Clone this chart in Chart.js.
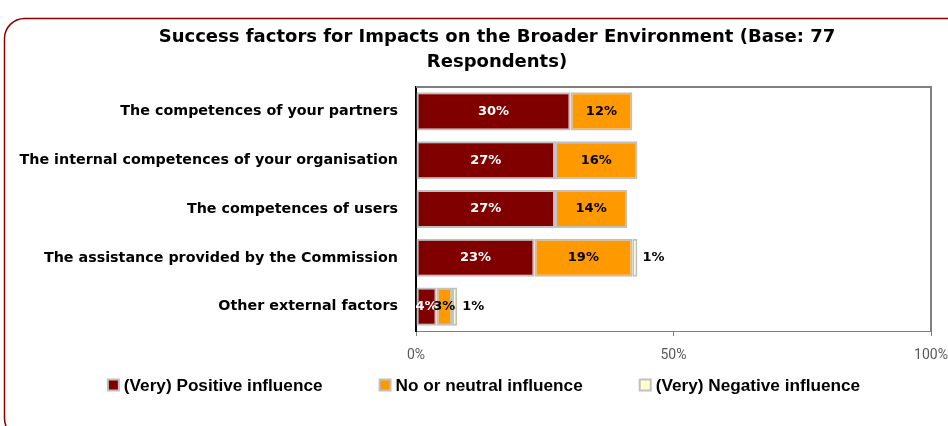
<!DOCTYPE html>
<html>
<head>
<meta charset="utf-8">
<title>Success factors for Impacts on the Broader Environment</title>
<script src="https://cdn.jsdelivr.net/npm/chart.js@4/dist/chart.umd.min.js"></script>
<style>
  html, body { margin: 0; padding: 0; background: #fff; }
  #wrap { width: 948px; height: 426px; position: relative; }
</style>
</head>
<body>
<div id="wrap"><canvas id="chart" width="948" height="426"></canvas></div>
<script>
// ---- data ----
const titleLines = ['Success factors for Impacts on the Broader Environment (Base: 77', 'Respondents)'];
const categories = [
  'The competences of your partners',
  'The internal competences of your organisation',
  'The competences of users',
  'The assistance provided by the Commission',
  'Other external factors'
];
const seriesNames = ['(Very) Positive influence', 'No or neutral influence', '(Very) Negative influence'];
const positiveInfluence = [30, 27, 27, 23, 4];
const neutralInfluence  = [12, 16, 14, 19, 3];
const negativeInfluence = [0, 0, 0, 1, 1];
const axisTicks = [0, 50, 100];

// ---- styling ----
const seriesColors = ['#800000', '#FF9900', '#FFFFCC'];
const labelColors = ['#FFFFFF', '#000000', '#000000'];
const edgeGrey = '#C0C0C0';
const boldFont = '"DejaVu Sans", Verdana, sans-serif';
const legendFont = '"Liberation Sans", Arial, sans-serif';

const datasets = [positiveInfluence, neutralInfluence, negativeInfluence].map((vals, i) => ({
  label: seriesNames[i],
  data: vals,
  backgroundColor: seriesColors[i],
  borderColor: edgeGrey,
  borderWidth: 2,
  borderSkipped: false,
  barPercentage: 0.78,
  categoryPercentage: 1.0
}));

// Frame, title, plot border, value labels and legend
const decorations = {
  id: 'decorations',
  beforeDraw(chart) {
    const ctx = chart.ctx;
    ctx.save();
    // outer rounded panel
    ctx.strokeStyle = '#8B0000';
    ctx.lineWidth = 1.5;
    ctx.beginPath();
    ctx.roundRect(4.5, 18.5, 980, 420, 20);
    ctx.stroke();
    // title
    ctx.fillStyle = '#000';
    ctx.font = 'bold 18px ' + boldFont;
    ctx.textAlign = 'center';
    ctx.textBaseline = 'middle';
    titleLines.forEach((t, i) => ctx.fillText(t, 497, 37 + i * 25));
    ctx.restore();
  },
  afterDatasetsDraw(chart) {
    const ctx = chart.ctx;
    const a = chart.chartArea;
    ctx.save();
    // plot border (top and right)
    ctx.strokeStyle = '#808080';
    ctx.lineWidth = 2;
    ctx.beginPath();
    ctx.moveTo(a.left, a.top);
    ctx.lineTo(a.right, a.top);
    ctx.lineTo(a.right, a.bottom);
    ctx.stroke();

    // value labels
    ctx.font = 'bold 13px ' + boldFont;
    ctx.textBaseline = 'middle';
    const lastRight = {};
    chart.data.datasets.forEach((ds, di) => {
      const meta = chart.getDatasetMeta(di);
      meta.data.forEach((bar, j) => {
        const v = ds.data[j];
        if (!v) return;
        const txt = v + '%';
        ctx.fillStyle = labelColors[di];
        if (di < 2) {
          ctx.textAlign = 'center';
          const cx = (bar.x + bar.base) / 2;
          ctx.fillText(txt, cx, bar.y);
          lastRight[j] = cx + ctx.measureText(txt).width / 2;
        } else {
          ctx.textAlign = 'left';
          const x = Math.max(bar.x + 5, (lastRight[j] || 0) + 4);
          ctx.fillText(txt, x, bar.y);
        }
      });
    });

    // legend
    ctx.font = 'bold 17.2px ' + legendFont;
    const box = 11, gap = 5, spacing = 57;
    const widths = chart.data.datasets.map(ds => box + gap + ctx.measureText(ds.label).width);
    const total = widths.reduce((s, w) => s + w, 0) + spacing * (widths.length - 1);
    let x = 484 - total / 2;
    const y = 385;
    chart.data.datasets.forEach((ds, i) => {
      ctx.fillStyle = ds.backgroundColor;
      ctx.fillRect(x, y - box / 2, box, box);
      ctx.strokeStyle = edgeGrey;
      ctx.lineWidth = 2;
      ctx.strokeRect(x, y - box / 2, box, box);
      ctx.fillStyle = '#000';
      ctx.textAlign = 'left';
      ctx.fillText(ds.label, x + box + gap, y + 1);
      x += widths[i] + spacing;
    });
    ctx.restore();
  }
};

new Chart(document.getElementById('chart'), {
  type: 'bar',
  data: { labels: categories, datasets },
  options: {
    indexAxis: 'y',
    responsive: false,
    animation: false,
    layout: { padding: { top: 87, right: 17, bottom: 0, left: 0 } },
    plugins: {
      legend: { display: false },
      title: { display: false },
      tooltip: { enabled: false }
    },
    scales: {
      x: {
        stacked: true,
        min: 0,
        max: 100,
        afterBuildTicks(scale) { scale.ticks = axisTicks.map(v => ({ value: v })); },
        afterFit(scale) {
          scale.height = 95;
          scale.paddingLeft = 0;
          scale.paddingRight = 0;
        },
        ticks: {
          callback: v => v + '%',
          color: '#595959',
          font: { family: 'Roboto', size: 14 },
          padding: 11,
          maxRotation: 0
        },
        grid: { drawOnChartArea: false, drawTicks: true, tickLength: 5, color: '#808080' },
        border: { color: '#808080', width: 1 }
      },
      y: {
        stacked: true,
        afterFit(scale) { scale.width = 416; },
        ticks: {
          color: '#000',
          font: { family: boldFont, size: 14.3, weight: 'bold' },
          padding: 18
        },
        grid: { drawOnChartArea: false, drawTicks: false },
        border: { color: '#000', width: 2 }
      }
    }
  },
  plugins: [decorations]
});
</script>
</body>
</html>
